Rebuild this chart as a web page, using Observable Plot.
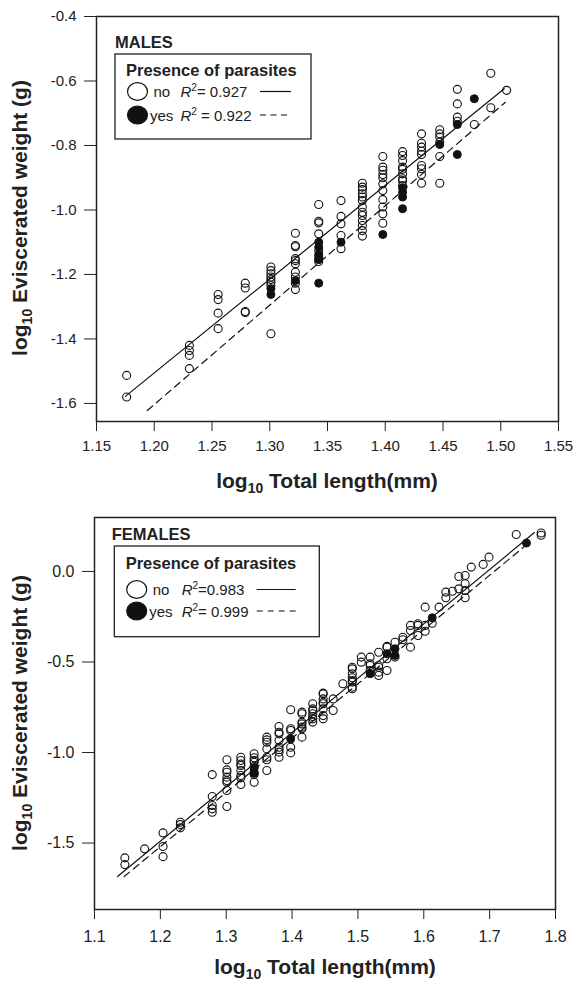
<!DOCTYPE html>
<html><head><meta charset="utf-8">
<script src="https://cdn.jsdelivr.net/npm/d3@7"></script>
<script src="https://cdn.jsdelivr.net/npm/@observablehq/plot@0.6"></script>
<style>
body{margin:0;background:#fff;font-family:"Liberation Sans",Arial,sans-serif;}
#wrap{position:relative;width:586px;height:981px;overflow:hidden;}
#topChart{position:absolute;left:0;top:0;}
#botChart{position:absolute;left:0;top:495px;}
#overlay{position:absolute;left:0;top:0;}
</style></head><body>
<div id="wrap"><div id="topChart"></div><div id="botChart"></div><svg id="overlay" width="586" height="981"></svg></div>
<script>
// ---------- DATA ----------
// MALES: columns of log10 total length, with log10 eviscerated weight values
const maleNo = [
  [1.1761, [-1.513, -1.580]],
  [1.2304, [-1.420, -1.436, -1.451, -1.492]],
  [1.2553, [-1.262, -1.278, -1.320, -1.368]],
  [1.2788, [-1.227, -1.242, -1.315, -1.318]],
  [1.3010, [-1.177, -1.188, -1.198, -1.208, -1.216, -1.224, -1.234, -1.384]],
  [1.3222, [-1.072, -1.110, -1.114, -1.151, -1.157, -1.167, -1.193, -1.208, -1.227, -1.247]],
  [1.3424, [-0.983, -1.035, -1.040, -1.074, -1.126, -1.146, -1.160]],
  [1.3617, [-0.971, -1.020, -1.043, -1.079, -1.120]],
  [1.3802, [-0.917, -0.929, -0.937, -0.950, -0.960, -0.971, -0.991, -1.007, -1.017, -1.033, -1.048, -1.064, -1.081]],
  [1.3979, [-0.834, -0.867, -0.877, -0.890, -0.900, -0.919, -0.940, -0.968, -0.991, -1.012, -1.041]],
  [1.4150, [-0.819, -0.831, -0.847, -0.867, -0.874, -0.888, -0.903, -0.909, -0.924]],
  [1.4314, [-0.764, -0.793, -0.805, -0.818, -0.828, -0.862, -0.872, -0.890, -0.917]],
  [1.4472, [-0.751, -0.764, -0.774, -0.790, -0.834, -0.917]],
  [1.4624, [-0.626, -0.671, -0.712, -0.725]],
  [1.4771, [-0.735]],
  [1.4914, [-0.576, -0.683]],
  [1.5051, [-0.629]]
];
const maleYes = [
  [1.3010, [-1.244, -1.262]],
  [1.3222, [-1.219]],
  [1.3424, [-1.100, -1.115, -1.138, -1.154, -1.227]],
  [1.3617, [-1.100]],
  [1.3979, [-1.076]],
  [1.4150, [-0.931, -0.945, -0.960, -0.996]],
  [1.4472, [-0.797]],
  [1.4624, [-0.735, -0.828]],
  [1.4771, [-0.655]]
];
const maleFitNo = [[1.175, -1.578], [1.503, -0.624]];
const maleFitYes = [[1.194, -1.622], [1.504, -0.666]];
const maleXTicks = [1.15, 1.20, 1.25, 1.30, 1.35, 1.40, 1.45, 1.50, 1.55];
const maleYTicks = [-1.6, -1.4, -1.2, -1.0, -0.8, -0.6, -0.4];
const maleXDomain = [1.15, 1.55];
const maleYDomain = [-1.656, -0.4];

// FEMALES
const femaleNo = [
  [1.1461, [-1.582, -1.619]],
  [1.1761, [-1.532]],
  [1.2041, [-1.444, -1.519, -1.575]],
  [1.2304, [-1.385, -1.398, -1.416]],
  [1.2788, [-1.122, -1.243, -1.293, -1.311, -1.330]],
  [1.3010, [-1.040, -1.096, -1.109, -1.136, -1.155, -1.164, -1.210, -1.298]],
  [1.3222, [-1.026, -1.044, -1.063, -1.072, -1.099, -1.127, -1.140, -1.177]],
  [1.3424, [-1.007, -1.029, -1.044, -1.054, -1.077, -1.109, -1.122, -1.164]],
  [1.3617, [-0.915, -0.930, -0.943, -0.980, -1.026, -1.040, -1.099]],
  [1.3802, [-0.856, -0.888, -0.897, -0.934, -0.971, -0.985, -0.998, -1.026]],
  [1.3979, [-0.764, -0.869, -0.878, -0.971, -1.002]],
  [1.4150, [-0.777, -0.786, -0.832, -0.842, -0.860, -0.869, -0.915]],
  [1.4314, [-0.731, -0.759, -0.768, -0.786, -0.801, -0.814, -0.832]],
  [1.4472, [-0.672, -0.676, -0.704, -0.722, -0.731, -0.759, -0.796, -0.814]],
  [1.4624, [-0.704, -0.768]],
  [1.4771, [-0.620]],
  [1.4914, [-0.529, -0.538, -0.565, -0.587, -0.602, -0.611, -0.639, -0.648]],
  [1.5051, [-0.473, -0.501]],
  [1.5185, [-0.473, -0.510, -0.519, -0.547]],
  [1.5315, [-0.446, -0.519, -0.529, -0.556, -0.575]],
  [1.5441, [-0.414, -0.418, -0.482, -0.547]],
  [1.5563, [-0.391, -0.473]],
  [1.5682, [-0.363, -0.377]],
  [1.5798, [-0.298, -0.326, -0.418]],
  [1.5911, [-0.289, -0.298, -0.354]],
  [1.6021, [-0.197, -0.298, -0.330]],
  [1.6128, [-0.286]],
  [1.6232, [-0.197]],
  [1.6335, [-0.114, -0.145]],
  [1.6435, [-0.109]],
  [1.6532, [-0.028, -0.096]],
  [1.6628, [-0.022, -0.068, -0.105, -0.145]],
  [1.6721, [0.024]],
  [1.6902, [0.039]],
  [1.6990, [0.079]],
  [1.7404, [0.204]],
  [1.7782, [0.200, 0.212]]
];
const femaleYes = [
  [1.3424, [-1.085, -1.115]],
  [1.3979, [-0.925]],
  [1.5185, [-0.565]],
  [1.5441, [-0.455]],
  [1.5563, [-0.427, -0.464]],
  [1.6128, [-0.256]],
  [1.7559, [0.157]]
];
const femaleFitNo = [[1.135, -1.685], [1.768, 0.215]];
const femaleFitYes = [[1.145, -1.685], [1.762, 0.165]];
const femaleXTicks = [1.1, 1.2, 1.3, 1.4, 1.5, 1.6, 1.7, 1.8];
const femaleYTicks = [-1.5, -1.0, -0.5, 0.0];
const femaleXDomain = [1.1, 1.8];
const femaleYDomain = [-1.867, 0.298];

// Legend texts
const maleLegend = {title: "MALES", head: "Presence of parasites", no: ["no", "= 0.927"], yes: ["yes", " = 0.922"]};
const femaleLegend = {title: "FEMALES", head: "Presence of parasites", no: ["no", "=0.983"], yes: ["yes", "= 0.999"]};

// ---------- helpers ----------
const flat = cols => cols.flatMap(([x, ys]) => ys.map(y => ({x, y})));
const pts = arr => arr.map(([x, y]) => ({x, y}));
const FONT = "Liberation Sans, Arial, Helvetica, sans-serif";

function makePlot(o) {
  return Plot.plot({
    width: 586, height: o.height,
    marginTop: o.mt, marginLeft: o.ml, marginRight: o.mr, marginBottom: o.mb,
    style: {fontFamily: FONT, fontSize: o.fs + "px", color: "#222", background: "white", overflow: "visible"},
    x: {domain: o.xDomain, label: null},
    y: {domain: o.yDomain, label: null},
    marks: [
      Plot.axisX({ticks: o.xTicks, tickFormat: d => d.toFixed(o.xDec), tickSize: 10, tickPadding: o.xPad, label: null, fontSize: o.fs}),
      Plot.axisY({ticks: o.yTicks, tickFormat: d => d.toFixed(1), tickSize: 12, tickPadding: 8, label: null, fontSize: o.fs}),
      Plot.line(pts(o.fitNo), {x: "x", y: "y", stroke: "#111", strokeWidth: 1.2}),
      Plot.line(pts(o.fitYes), {x: "x", y: "y", stroke: "#111", strokeWidth: 1.2, strokeDasharray: "7,5"}),
      Plot.dot(flat(o.no), {x: "x", y: "y", r: 4, stroke: "#111", strokeWidth: 1.1, fill: "none"}),
      Plot.dot(flat(o.yes), {x: "x", y: "y", r: 4, stroke: "#111", strokeWidth: 1, fill: "#111"}),
      Plot.frame({stroke: "#222", strokeWidth: 1.5})
    ]
  });
}

function addTitles(svgEl, xc, xb, yc) {
  const svg = d3.select(svgEl);
  const t = svg.append("text").attr("x", xc).attr("y", xb).attr("text-anchor", "middle")
    .attr("font-family", FONT).attr("font-weight", "bold").attr("font-size", 21).attr("fill", "#222");
  t.append("tspan").text("log");
  t.append("tspan").attr("dy", 5).attr("font-size", 14).text("10");
  t.append("tspan").attr("dy", -5).text(" Total length(mm)");
  const u = svg.append("text").attr("transform", `translate(27,${yc}) rotate(-90)`).attr("text-anchor", "middle")
    .attr("font-family", FONT).attr("font-weight", "bold").attr("font-size", 21).attr("fill", "#222");
  u.append("tspan").text("log");
  u.append("tspan").attr("dy", 5).attr("font-size", 14).text("10");
  u.append("tspan").attr("dy", -5).text(" Eviscerated weight (g)");
}

const chartM = makePlot({height: 495, mt: 16, ml: 96, mr: 28, mb: 74, fs: 15, xPad: 9, xDec: 2,
  xDomain: maleXDomain, yDomain: maleYDomain, xTicks: maleXTicks, yTicks: maleYTicks,
  no: maleNo, yes: maleYes, fitNo: maleFitNo, fitYes: maleFitYes});
document.getElementById("topChart").append(chartM);
addTitles(chartM, 327, 488, 218);

const chartF = makePlot({height: 486, mt: 22, ml: 94, mr: 31, mb: 72, fs: 16, xPad: 11, xDec: 1,
  xDomain: femaleXDomain, yDomain: femaleYDomain, xTicks: femaleXTicks, yTicks: femaleYTicks,
  no: femaleNo, yes: femaleYes, fitNo: femaleFitNo, fitYes: femaleFitYes});
document.getElementById("botChart").append(chartF);
addTitles(chartF, 325, 479, 218);

// ---------- legends (overlay) ----------
const ov = d3.select("#overlay");
function legend(L, g) {
  const grp = ov.append("g").attr("font-family", FONT).attr("fill", "#222");
  grp.append("text").attr("x", g.tx).attr("y", g.ty).attr("font-weight", "bold").attr("font-size", 16.5).text(L.title);
  grp.append("rect").attr("x", g.bx).attr("y", g.by).attr("width", g.bw).attr("height", g.bh)
    .attr("fill", "white").attr("stroke", "#222").attr("stroke-width", 1.3);
  grp.append("text").attr("x", g.hx).attr("y", g.hy).attr("font-weight", "bold").attr("font-size", 16.5).text(L.head);
  const rows = [[L.no, g.r1, false], [L.yes, g.r2, true]];
  rows.forEach(([lab, cy, filled]) => {
    grp.append("ellipse").attr("cx", g.cx).attr("cy", cy).attr("rx", 10).attr("ry", 8.8)
      .attr("fill", filled ? "#111" : "white").attr("stroke", "#111").attr("stroke-width", 1.2);
    grp.append("text").attr("x", g.cx + (filled ? 12.5 : 16)).attr("y", cy + 5.5).attr("font-size", 15).text(lab[0]);
    const t = grp.append("text").attr("x", g.rx).attr("y", cy + 5.5).attr("font-size", 15);
    t.append("tspan").attr("font-style", "italic").text("R");
    t.append("tspan").attr("dy", -6).attr("font-size", 10).text("2");
    t.append("tspan").attr("dy", 6).text(lab[1]);
    grp.append("line").attr("x1", g.lx1).attr("x2", filled ? g.lx2d : g.lx2).attr("y1", cy).attr("y2", cy)
      .attr("stroke", "#111").attr("stroke-width", 1.2).attr("stroke-dasharray", filled ? g.dash : null);
  });
}
legend(maleLegend, {tx: 115, ty: 48, bx: 115, by: 54, bw: 196, bh: 85, hx: 126, hy: 76,
  cx: 137.5, r1: 91.5, r2: 115, rx: 180.5, lx1: 260, lx2: 291, lx2d: 287, dash: "6,4.5"});
legend(femaleLegend, {tx: 111.7, ty: 540, bx: 114.3, by: 546, bw: 205, bh: 90.7, hx: 125.7, hy: 569,
  cx: 136.7, r1: 589.5, r2: 611, rx: 181.7, lx1: 256.7, lx2: 295.7, lx2d: 295.7, dash: "6,5"});
</script>
</body></html>
